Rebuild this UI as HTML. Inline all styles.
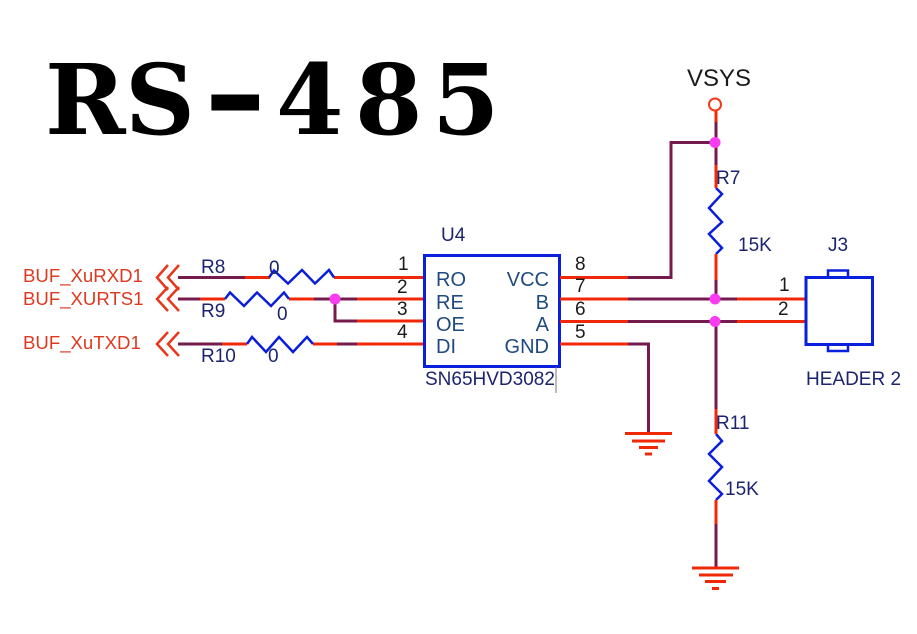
<!DOCTYPE html>
<html><head><meta charset="utf-8"><style>
html,body{margin:0;padding:0;background:#fff;width:917px;height:634px;overflow:hidden}
svg{display:block}
text{font-family:"Liberation Sans",sans-serif}
.t{font-family:"DejaVu Serif",serif;font-weight:bold;font-size:97px;fill:#000}
.n{fill:#1c2470;font-size:19px}
.p{fill:#1b1b1b;font-size:19px}
.i{fill:#1f4a80;font-size:20px}
.l{fill:#dc3a20;font-size:18.6px}
.r{stroke:#f02808;stroke-width:3;fill:none}
.d{stroke:#741a4c;stroke-width:3;fill:none}
.b{stroke:#0a1fdc;stroke-width:2.5;fill:none;stroke-linejoin:miter}
.c{stroke:#e8361a;stroke-width:2.5;fill:none}
.j{fill:#f93cf0}
</style></head><body>
<svg width="917" height="634" viewBox="0 0 917 634" xmlns="http://www.w3.org/2000/svg">
<text class="t" x="45" y="134">R</text>
<text class="t" x="125" y="134">S</text>
<text class="t" transform="translate(203 135) scale(1.6 1.25)">-</text>
<text class="t" x="276" y="134">4</text>
<text class="t" x="355" y="134">8</text>
<text class="t" x="432" y="134">5</text>

<!-- off-page chevrons -->
<path class="c" d="M168 265L157 277.5L168 290M179 265L168 277.5L179 290"/>
<path class="c" d="M168 287L157 299L168 311M179 287L168 299L179 311"/>
<path class="c" d="M168 332L157 344L168 356M179 332L168 344L179 356"/>

<!-- left wires -->
<path class="d" d="M178 277.5H245M178 299H200M314 299H357M178 344H222M337 344H357M335 299V321H357"/>
<path class="r" d="M245 277.5H270M334 277.5H424M200 299H225M289 299H314M357 299H424M357 321H424M222 344H247M313 344H337M357 344H424"/>

<!-- resistors -->
<path class="b" d="M269 277.5L274 270.5L288 283.5L302 270L315 283.5L329 270L334 277.5"/>
<path class="b" d="M225 299L230 292.500L244 306L257 292.500L271 306L284 292.500L289 299"/>
<path class="b" d="M247 344L252 337L266 352L279 337L293 352L307 337L313 344"/>
<path class="b" d="M716 188L722 194L709 208L722 222L709 234L722 248L716 254"/>
<path class="b" d="M716 434L722 441L709 454L722 467L709 481L722 494L716 500"/>

<!-- IC -->
<rect x="424.500" y="255.500" width="135" height="111" fill="#fff" stroke="#0a1fdc" stroke-width="3"/>
<line x1="556" y1="367" x2="556" y2="393" stroke="#777" stroke-width="1"/>

<!-- right wires -->
<path class="d" d="M628 277.500H671V142.500H716M628 299H737M628 321.500H737M628 344H648.500V433M716 122V165M716 280V299M716 321.500V409M716 524V567"/>
<path class="r" d="M560 277.500H628M560 299H628M560 321.500H628M560 344H628M716 110V122M716 165V188M716 254V280M737 299H805M737 321.500H805M716 409V434M716 500V524"/>

<!-- grounds -->
<path class="r" d="M625 433.500H672M632 441H665M639 447.500H658M645 454H652"/>
<path class="r" d="M692 568H739M699 575H733M705 581.500H726M712 588.500H719"/>

<!-- VSYS -->
<circle cx="715" cy="104.500" r="6" fill="#fff" stroke="#ef3a1c" stroke-width="2"/>

<!-- junctions -->
<circle class="j" cx="335" cy="299" r="5.500"/>
<circle class="j" cx="715" cy="142.500" r="5.500"/>
<circle class="j" cx="715" cy="299" r="5.500"/>
<circle class="j" cx="715" cy="321.500" r="5.500"/>

<!-- J3 -->
<rect x="806" y="277.500" width="66.500" height="67" fill="#fff" stroke="#0a1fdc" stroke-width="3"/>
<path class="b" d="M828 277V270.500H848V277M828 345V351H848V345"/>
<text x="828" y="251" class="n">J3</text>
<text x="806" y="385" class="n">HEADER 2</text>

<!-- net labels -->
<text x="23" y="282" class="l">BUF_XuRXD1</text>
<text x="23" y="305" class="l">BUF_XURTS1</text>
<text x="23" y="349" class="l">BUF_XuTXD1</text>

<!-- ref labels -->
<text x="201" y="273" class="n">R8</text>
<text x="269" y="274" class="n">0</text>
<text x="201" y="317" class="n">R9</text>
<text x="277" y="320" class="n">0</text>
<text x="201" y="362" class="n">R10</text>
<text x="268" y="362" class="n">0</text>
<text x="441" y="241" class="n">U4</text>
<text x="425" y="385" class="n">SN65HVD3082</text>
<text x="716" y="184" class="n">R7</text>
<text x="738" y="251" class="n">15K</text>
<text x="716" y="429" class="n">R11</text>
<text x="725" y="495" class="n">15K</text>
<text x="687" y="86" fill="#1b1b1b" style="font-size:24px">VSYS</text>

<!-- pin numbers -->
<text x="398" y="270" class="p">1</text>
<text x="397" y="293" class="p">2</text>
<text x="397" y="315" class="p">3</text>
<text x="397" y="338" class="p">4</text>
<text x="575" y="270" class="p">8</text>
<text x="575" y="292" class="p">7</text>
<text x="575" y="315" class="p">6</text>
<text x="575" y="338" class="p">5</text>
<text x="779" y="291" class="p">1</text>
<text x="778" y="315" class="p">2</text>

<!-- pin names -->
<text x="436" y="286" class="i">RO</text>
<text x="436" y="309" class="i">RE</text>
<text x="436" y="331" class="i">OE</text>
<text x="436" y="353" class="i">DI</text>
<text x="549" y="286" class="i" text-anchor="end">VCC</text>
<text x="549" y="309" class="i" text-anchor="end">B</text>
<text x="549" y="331" class="i" text-anchor="end">A</text>
<text x="549" y="353" class="i" text-anchor="end">GND</text>
</svg>
</body></html>
